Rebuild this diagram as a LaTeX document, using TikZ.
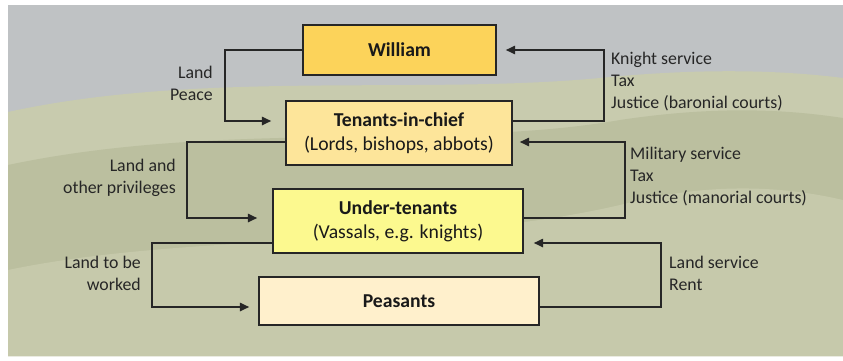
\documentclass[tikz,border=0pt]{standalone}
\usepackage{fontspec}
\setmainfont{Carlito}
\usepackage{tikz}
\usetikzlibrary{arrows.meta,positioning}
\definecolor{cielo}{HTML}{BFC2C4}
\definecolor{colina}{HTML}{C8CBAE}
\definecolor{colinab}{HTML}{BBBF9F}
\definecolor{colinac}{HTML}{C6C9AB}
\definecolor{rey}{HTML}{FCD35A}
\definecolor{baron}{HTML}{FDE59A}
\definecolor{vasallo}{HTML}{FCF98F}
\definecolor{siervo}{HTML}{FFF0CC}
\tikzset{
  caja/.style={draw=black!85,line width=1.2pt,align=center,inner sep=0pt,text=black!90,
    font=\fontsize{16.8}{20.5}\selectfont},
  flujo/.style={-{Triangle[length=8pt,width=7pt]},line width=1.7pt,draw=black!85},
  etiq/.style={inner sep=0pt,text=black!85,font=\fontsize{15.2}{18.8}\selectfont}
}

\begin{document}
\begin{tikzpicture}[x=0.03cm,y=-0.03cm]
\useasboundingbox (0,0) rectangle (843,360);
% fondo
\fill[white] (0,0) rectangle (843,360);
\fill[cielo] (8,5) rectangle (843,356);
\fill[colina] (8,112) .. controls (200,70) and (420,95) .. (600,78)
  .. controls (700,68) and (780,70) .. (843,78) -- (843,356) -- (8,356) -- cycle;
\fill[colinab] (8,165) .. controls (220,120) and (450,150) .. (620,120)
  .. controls (720,105) and (790,110) .. (843,118) -- (843,356) -- (8,356) -- cycle;
\fill[colinac] (8,270) .. controls (200,230) and (450,250) .. (640,200)
  .. controls (730,180) and (800,190) .. (843,200) -- (843,356) -- (8,356) -- cycle;
% cajas
\node[caja,fill=rey,minimum width=5.79cm,minimum height=1.5cm] (will) at (399.5,50) {\textbf{William}};
\node[caja,fill=baron,minimum width=6.78cm,minimum height=1.92cm] (tic) at (399,133)
  {\textbf{Tenants-in-chief}\\(Lords, bishops, abbots)};
\node[caja,fill=vasallo,minimum width=7.5cm,minimum height=1.92cm] (ut) at (398,221)
  {\textbf{Under-tenants}\\(Vassals, e.g. knights)};
\node[caja,fill=siervo,minimum width=8.4cm,minimum height=1.44cm] (pea) at (399,301) {\textbf{Peasants}};
% flechas hacia abajo
\draw[flujo,shorten >=0.42cm] (will.west) -- ++(-77,0) |- ([yshift=0.36cm]tic.west);
\draw[flujo,shorten >=0.45cm] ([yshift=-0.27cm]tic.west) -- ++(-98,0) |- ([yshift=0.09cm]ut.west);
\draw[flujo,shorten >=0.27cm] ([yshift=-0.66cm]ut.west) -- ++(-120,0) |- ([yshift=-0.18cm]pea.west);
% flechas hacia arriba
\draw[flujo,shorten >=0.27cm] ([yshift=0.36cm]tic.east) -- ++(91,0) |- (will.east);
\draw[flujo,shorten >=0.21cm] ([yshift=0.09cm]ut.east) -- ++(101,0) |- ([yshift=-0.27cm]tic.east);
\draw[flujo,shorten >=0.3cm] ([yshift=-0.18cm]pea.east) -- ++(121,0) |- ([yshift=-0.66cm]ut.east);
% etiquetas
\node[etiq,anchor=east,align=right] (lp) at (213,83) {Land\\Peace};
\node[etiq,anchor=east,align=right] (lo) at (176,178) {Land and\\other privileges};
\node[etiq,anchor=east,align=right] (lw) at (141,273) {Land to be\\worked};
\node[etiq,anchor=west,align=left] (ks) at (611,82) {Knight service\\Tax\\Justice (baronial courts)};
\node[etiq,anchor=west,align=left] (ms) at (630,177) {Military service\\Tax\\Justice (manorial courts)};
\node[etiq,anchor=west,align=left] (ls) at (669,273) {Land service\\Rent};
\end{tikzpicture}
\end{document}
